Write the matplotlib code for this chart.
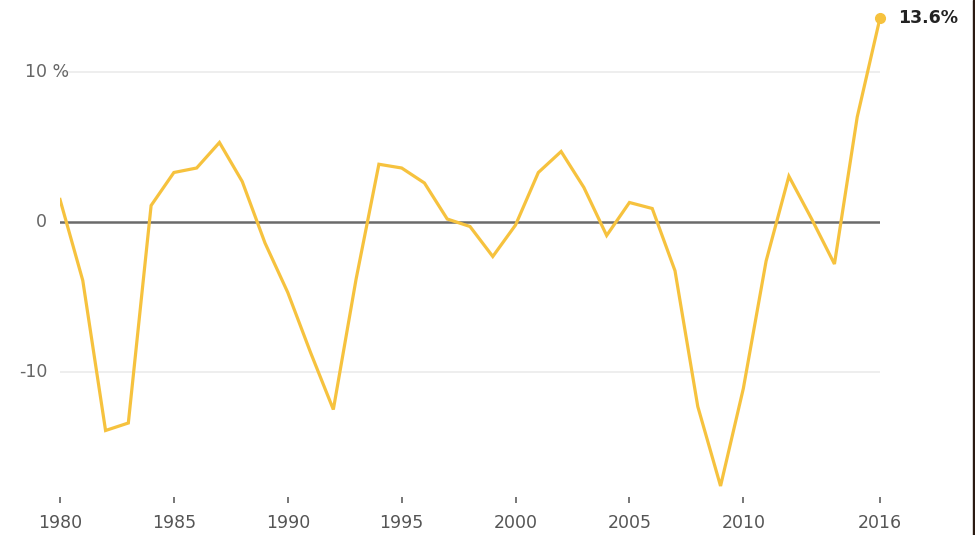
import matplotlib
matplotlib.use("Agg")
import matplotlib.pyplot as plt
import numpy as np

# annual change, percent
years = list(range(1980, 2017))
values = [1.5, -3.9, -13.9, -13.4, 1.1, 3.3, 3.6, 5.3, 2.7, -1.4,
          -4.7, -8.7, -12.5, -3.8, 3.85, 3.6, 2.6, 0.2, -0.3, -2.3,
          -0.2, 3.3, 4.7, 2.3, -0.9, 1.3, 0.9, -3.25, -12.3, -17.6,
          -11.1, -2.6, 3.05, 0.2, -2.8, 7.0, 13.6]
xticks = [1980, 1985, 1990, 1995, 2000, 2005, 2010, 2016]
ygrid = [-10, 10]
ylabels = {10: "10 %", 0: "0", -10: "-10"}

W, H = 975, 535
fig = plt.figure(figsize=(W / 100, H / 100), dpi=100)
fig.patch.set_facecolor("white")

# layout in pixels
x0, x1 = 60, 880
ymin, ymax = -18.3, 14.2
y_zero, px_per = 222, 15
top_px = y_zero - ymax * px_per
bot_px = y_zero - ymin * px_per
ax = fig.add_axes([x0 / W, 1 - bot_px / H, (x1 - x0) / W, (bot_px - top_px) / H])
ax.set_xlim(1980, 2016)
ax.set_ylim(ymin, ymax)
for s in ax.spines.values():
    s.set_visible(False)

line_col = "#F6C23E"

for g in ygrid:
    ax.axhline(g, color="#ebebeb", lw=1.2, zorder=1)
ax.axhline(0, color="#6b6b6b", lw=1.8, zorder=2)

ax.plot(years, values, color=line_col, lw=2.3, zorder=3, solid_joinstyle="miter")
ax.plot(years[-1], values[-1], "o", color=line_col, ms=7, zorder=4, clip_on=False)
ax.annotate("{}%".format(values[-1]), (years[-1], values[-1]),
            xytext=(13, 0), textcoords="offset points", ha="left", va="center",
            fontsize=12.5, fontweight="bold", color="#222222", annotation_clip=False)

ax.set_yticks([])
ax.set_xticks(xticks)
ax.set_xticklabels([str(t) for t in xticks])
ax.tick_params(axis="x", length=4.5, width=1.4, color="#777777", pad=8,
               labelsize=12.5, labelcolor="#555555")

# y labels drawn by hand
for v, lab in ylabels.items():
    if lab.endswith("%"):
        ax.text(1980 - 35 / 22.78, v, lab, ha="left", va="center",
                fontsize=12.5, color="#666666", clip_on=False)
    else:
        ax.text(1980 - 13 / 22.78, v, lab, ha="right", va="center",
                fontsize=12.5, color="#666666", clip_on=False)

# dark strip at the right edge of the screenshot
fig.patches.append(plt.Rectangle((1 - 2 / W, 0), 2 / W, 1, transform=fig.transFigure,
                                 color="#2a1a12", zorder=10))

fig.savefig("out.png", dpi=100)
